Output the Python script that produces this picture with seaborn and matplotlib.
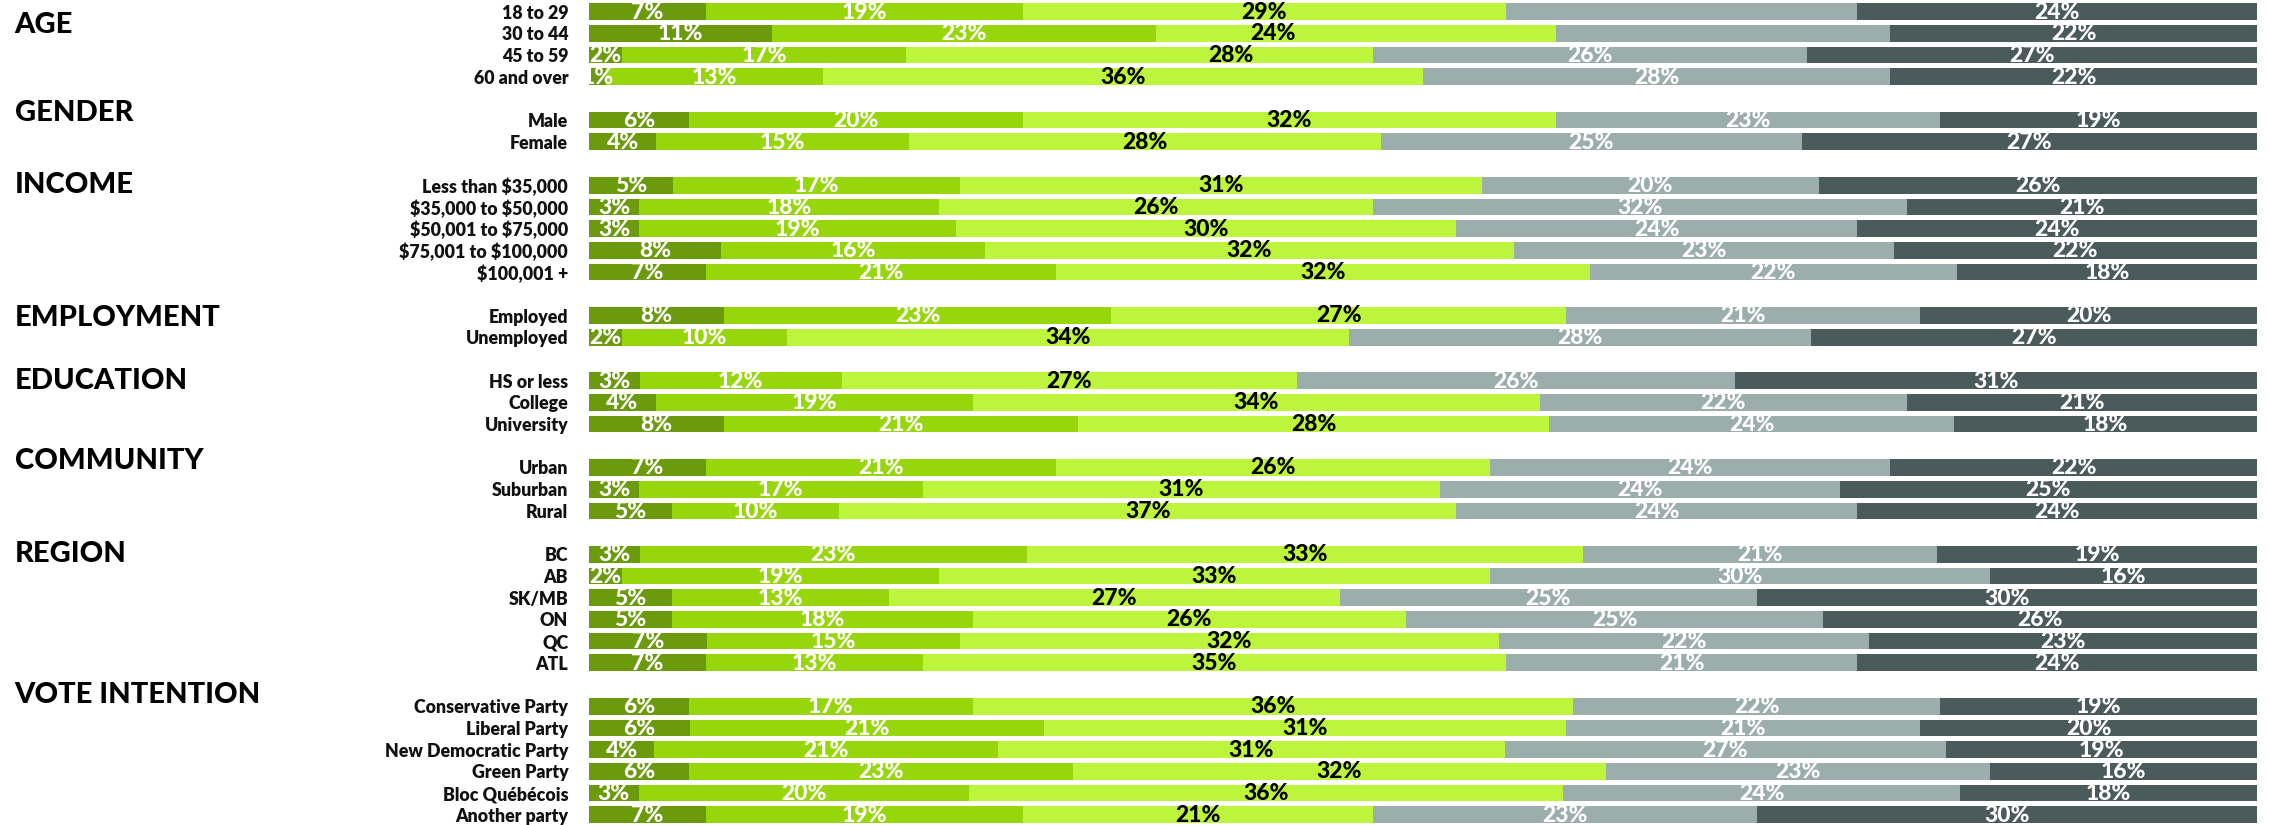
import numpy as np
import pandas as pd
import seaborn as sns
import matplotlib.pyplot as plt
from matplotlib import transforms

# ---- survey breakdown: five response levels per demographic row ----
groups = ["AGE", "GENDER", "INCOME", "EMPLOYMENT", "EDUCATION",
          "COMMUNITY", "REGION", "VOTE INTENTION"]

age_rows = ["18 to 29", "30 to 44", "45 to 59", "60 and over"]
age_values = [[7, 19, 29, 21, 24], [11, 23, 24, 20, 22],
              [2, 17, 28, 26, 27], [1, 13, 36, 28, 22]]

gender_rows = ["Male", "Female"]
gender_values = [[6, 20, 32, 23, 19], [4, 15, 28, 25, 27]]

income_rows = ["Less than $35,000", "$35,000 to $50,000", "$50,001 to $75,000",
               "$75,001 to $100,000", "$100,001 +"]
income_values = [[5, 17, 31, 20, 26], [3, 18, 26, 32, 21], [3, 19, 30, 24, 24],
                 [8, 16, 32, 23, 22], [7, 21, 32, 22, 18]]

employment_rows = ["Employed", "Unemployed"]
employment_values = [[8, 23, 27, 21, 20], [2, 10, 34, 28, 27]]

education_rows = ["HS or less", "College", "University"]
education_values = [[3, 12, 27, 26, 31], [4, 19, 34, 22, 21], [8, 21, 28, 24, 18]]

community_rows = ["Urban", "Suburban", "Rural"]
community_values = [[7, 21, 26, 24, 22], [3, 17, 31, 24, 25], [5, 10, 37, 24, 24]]

region_rows = ["BC", "AB", "SK/MB", "ON", "QC", "ATL"]
region_values = [[3, 23, 33, 21, 19], [2, 19, 33, 30, 16], [5, 13, 27, 25, 30],
                 [5, 18, 26, 25, 26], [7, 15, 32, 22, 23], [7, 13, 35, 21, 24]]

vote_rows = ["Conservative Party", "Liberal Party", "New Democratic Party",
             "Green Party", "Bloc Québécois", "Another party"]
vote_values = [[6, 17, 36, 22, 19], [6, 21, 31, 21, 20], [4, 21, 31, 27, 19],
               [6, 23, 32, 23, 16], [3, 20, 36, 24, 18], [7, 19, 21, 23, 30]]

# segments whose value is not printed
unlabeled = [("18 to 29", 3), ("30 to 44", 3)]

group_rows = [age_rows, gender_rows, income_rows, employment_rows,
              education_rows, community_rows, region_rows, vote_rows]
group_values = [age_values, gender_values, income_values, employment_values,
                education_values, community_values, region_values, vote_values]

# ---- styling ----
seg_colors = ["#6b9b0c", "#97d60b", "#bdf43c", "#9caeac", "#4b5b5b"]
text_colors = ["white", "white", "black", "white", "white"]
header_offsets = [0.62, -0.33, 0.0, 0.1, 0.0, -0.3, 0.0, -0.5]
label_shift = {("30 to 44", 2): -5.0, ("45 to 59", 2): 5.5}

sns.set_style("white")
plt.rcParams["font.family"] = ["Lato", "DejaVu Sans"]
plt.rcParams["text.parse_math"] = False

# Build a long table: one record per row, with slot positions leaving a
# blank slot between groups.
records = []
header_pos = []
slot = 0
for g, rows, vals in zip(groups, group_rows, group_values):
    header_pos.append(slot)
    for name, v in zip(rows, vals):
        v = np.asarray(v, dtype=float)
        share = v / v.sum() * 100
        records.append(dict(group=g, label=name, pos=slot, values=v, share=share))
        slot += 1
    slot += 1

df = pd.DataFrame({
    "label": [r["label"] for r in records],
    "pos": [r["pos"] for r in records],
})
shares = np.vstack([r["share"] for r in records])
cum = np.cumsum(shares, axis=1)
for k in range(5):
    df[f"cum{k}"] = cum[:, k]

fig = plt.figure(figsize=(22.69, 8.25), dpi=100)
ax = fig.add_axes([589 / 2269, 0, (2257 - 589) / 2269, 1])

# stacked bars: paint cumulative totals from the outermost segment inwards
for k in reversed(range(5)):
    sns.barplot(data=df, x=f"cum{k}", y="pos", orient="h", native_scale=True,
                color=seg_colors[k], width=0.77, errorbar=None,
                saturation=1, linewidth=0, ax=ax)

ax.set_xlim(0, 100)
ax.set_ylim(37.47, -0.534)
ax.set_xlabel("")
ax.set_ylabel("")
ax.set_xticks([])
ax.set_yticks(df["pos"].tolist())
ax.set_yticklabels(df["label"].tolist(), fontsize=12.8, fontweight="heavy",
                   color="#111111")
ax.tick_params(axis="y", length=0, pad=15)
for s in ax.spines.values():
    s.set_visible(False)

# value labels in each segment
for r in records:
    left = 0.0
    for k in range(5):
        w = r["share"][k]
        if (r["label"], k) not in unlabeled:
            xc = left + w / 2 + label_shift.get((r["label"], k), 0.0)
            ax.text(xc, r["pos"] + 0.02, f"{int(r['values'][k])}%",
                    ha="center", va="center", fontsize=16.5,
                    fontweight="black", color=text_colors[k])
        left += w

# group headers in the left margin
trans = transforms.blended_transform_factory(fig.transFigure, ax.transData)
for g, p, off in zip(groups, header_pos, header_offsets):
    ax.text(14.5 / 2269, p + off, g, transform=trans, ha="left", va="center",
            fontsize=21, fontweight="black", color="black", clip_on=False)

fig.savefig("out.png", dpi=100, facecolor="white")
